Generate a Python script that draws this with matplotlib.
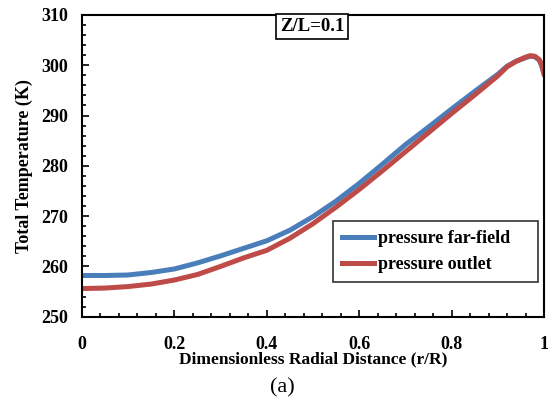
import matplotlib.pyplot as plt
from matplotlib.ticker import MultipleLocator

plt.rcParams['font.family'] = ['Liberation Serif', 'DejaVu Serif']

# radial position and total temperature
r = [0, 0.05, 0.1, 0.15, 0.2, 0.25, 0.3, 0.35, 0.4, 0.45, 0.5, 0.55, 0.6,
     0.65, 0.7, 0.75, 0.8, 0.85, 0.9, 0.92, 0.94, 0.96, 0.97, 0.98, 0.99,
     0.995, 1.0]
t_farfield = [258.2, 258.2, 258.3, 258.8, 259.5, 260.7, 262.1, 263.6, 265.1,
              267.2, 269.9, 273.0, 276.5, 280.3, 284.2, 287.7, 291.3, 294.8,
              298.2, 299.8, 300.8, 301.5, 301.8, 301.7, 301.0, 299.9, 298.3]
t_outlet = [255.6, 255.7, 256.0, 256.5, 257.3, 258.4, 260.0, 261.7, 263.2,
            265.6, 268.5, 271.8, 275.3, 279.0, 282.8, 286.6, 290.4, 294.1,
            297.9, 299.7, 300.8, 301.6, 301.9, 301.8, 301.1, 300.0, 298.3]

fig = plt.figure(figsize=(5.48, 4.04), dpi=100)
ax = fig.add_axes([0.1496, 0.216, 0.8431, 0.747])

ax.plot(r, t_farfield, color='#4a7ebb', linewidth=3.6, label='pressure far-field')
ax.plot(r, t_outlet, color='#be4b48', linewidth=3.6, label='pressure outlet')

ax.set_xlim(0, 1)
ax.set_ylim(250, 310)
ax.xaxis.set_major_locator(MultipleLocator(0.2))
ax.xaxis.set_minor_locator(MultipleLocator(0.04))
ax.yaxis.set_major_locator(MultipleLocator(10))
ax.yaxis.set_minor_locator(MultipleLocator(2))
ax.set_xticks([0, 0.2, 0.4, 0.6, 0.8, 1.0])
ax.set_xticklabels(['0', '0.2', '0.4', '0.6', '0.8', '1'])
ax.tick_params(which='both', direction='in', top=False, right=False, width=1.2)
ax.tick_params(which='major', length=5, labelsize=13, pad=14)
ax.tick_params(axis='y', which='major', pad=10)
ax.tick_params(which='minor', length=3)
for lab in ax.get_xticklabels() + ax.get_yticklabels():
    lab.set_fontweight('bold')
for s in ax.spines.values():
    s.set_linewidth(1.5)

ax.set_xlabel('Dimensionless Radial Distance (r/R)', fontsize=12.5,
              fontweight='bold', labelpad=-1)
ax.set_ylabel('Total Temperature (K)', fontsize=13, fontweight='bold', labelpad=6)

ax.text(0.498, 0.962, 'Z/L=0.1', transform=ax.transAxes, ha='center', va='center',
        fontsize=13.5, fontweight='bold',
        bbox=dict(boxstyle='square,pad=0.2', facecolor='white',
                  edgecolor='black', linewidth=1.2))

leg = ax.legend(loc='upper left', bbox_to_anchor=(0.543, 0.111, 0.444, 0.206),
                mode='expand', frameon=True, fancybox=False, edgecolor='black',
                handlelength=1.8, handletextpad=0.2, borderpad=0.5,
                labelspacing=0.5, borderaxespad=0,
                prop={'weight': 'bold', 'size': 13})
leg.get_frame().set_linewidth(1.2)

fig.text(0.516, 0.04, '(a)', ha='center', va='center', fontsize=16)

fig.savefig('out.png', dpi=100)
